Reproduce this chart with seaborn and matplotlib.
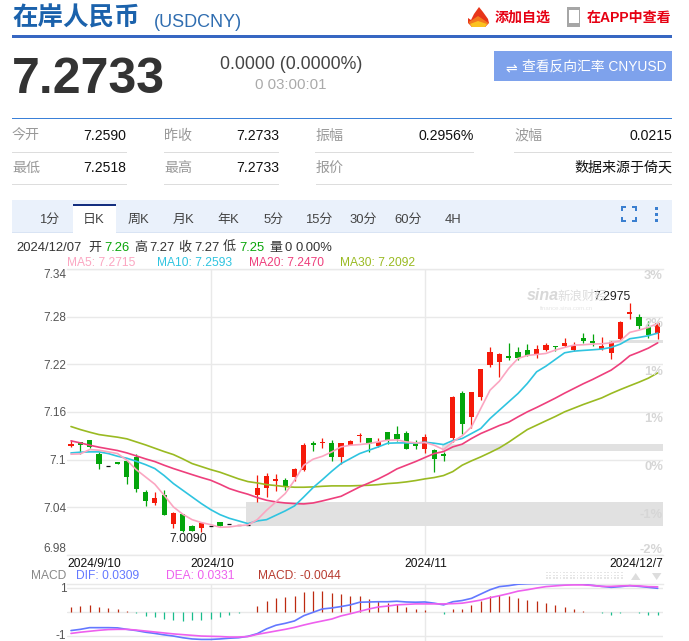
import matplotlib

matplotlib.use("Agg")
import matplotlib.pyplot as plt
import numpy as np
import pandas as pd
import seaborn as sns
from matplotlib.patches import Polygon, Rectangle

W, H = 689, 641

# daily candles
opens = [7.1169, 7.1224, 7.1245, 7.1068, 7.0925, 7.0967, 7.098, 7.103, 7.0589, 7.0451, 7.0551, 7.0186, 7.0312, 7.0161, 7.0136, 7.0169,
         7.0211, 7.0186, 7.0182, 7.0178, 7.0551, 7.064, 7.0728, 7.0741, 7.0778, 7.0875, 7.1207, 7.1211, 7.1207, 7.103, 7.119, 7.1303,
         7.127, 7.1169, 7.1346, 7.132, 7.1333, 7.1194, 7.1131, 7.1119, 7.1068, 7.1278, 7.1837, 7.1534, 7.179, 7.2189, 7.2227, 7.2299,
         7.2353, 7.2379, 7.2328, 7.2379, 7.2437, 7.2429, 7.2379, 7.253, 7.2492, 7.2391, 7.2345, 7.2513, 7.2837, 7.2795, 7.2681, 7.2589]
closes = [7.1194, 7.1186, 7.1161, 7.0946, 7.0925, 7.0946, 7.0778, 7.0631, 7.0476, 7.0514, 7.03, 7.0325, 7.0102, 7.0098, 7.0199, 7.0169,
          7.0165, 7.0186, 7.0182, 7.0178, 7.064, 7.0791, 7.0753, 7.0657, 7.0879, 7.1182, 7.1182, 7.122, 7.103, 7.1207, 7.1232, 7.1308,
          7.1203, 7.122, 7.1253, 7.1266, 7.1131, 7.1169, 7.1283, 7.1005, 7.1051, 7.179, 7.1446, 7.1849, 7.2143, 7.2353, 7.2328, 7.2278,
          7.2278, 7.2307, 7.2391, 7.2442, 7.2416, 7.2467, 7.2433, 7.2488, 7.2471, 7.2437, 7.2475, 7.2732, 7.2858, 7.2681, 7.2568, 7.2715]
highs = [7.1245, 7.1224, 7.1245, 7.1098, 7.0925, 7.0967, 7.1001, 7.1077, 7.0615, 7.0598, 7.0623, 7.0337, 7.0312, 7.0178, 7.0199, 7.0169,
         7.0211, 7.0186, 7.0182, 7.0178, 7.0808, 7.0829, 7.0816, 7.077, 7.0892, 7.1211, 7.1232, 7.1278, 7.1245, 7.1207, 7.1245, 7.1337,
         7.127, 7.127, 7.1346, 7.1421, 7.1358, 7.1245, 7.1329, 7.114, 7.1098, 7.1799, 7.1862, 7.1849, 7.2143, 7.2421, 7.2345, 7.2463,
         7.2412, 7.2454, 7.2442, 7.2471, 7.2437, 7.2526, 7.2479, 7.2589, 7.2576, 7.2538, 7.2496, 7.2744, 7.2975, 7.2832, 7.2748, 7.2727]
lows = [7.116, 7.1077, 7.1148, 7.0888, 7.0925, 7.0946, 7.0699, 7.0589, 7.0413, 7.0425, 7.03, 7.014, 7.009, 7.0098, 7.0095, 7.0169,
        7.0165, 7.0186, 7.0182, 7.0178, 7.0467, 7.0531, 7.0606, 7.0615, 7.0732, 7.0854, 7.1106, 7.1148, 7.0984, 7.0951, 7.118, 7.1224,
        7.1102, 7.1161, 7.1203, 7.1236, 7.1131, 7.1131, 7.1089, 7.0846, 7.0981, 7.1223, 7.1328, 7.1404, 7.1748, 7.2168, 7.2042, 7.2252,
        7.2252, 7.2303, 7.2286, 7.2371, 7.2366, 7.2421, 7.2366, 7.2463, 7.2429, 7.2379, 7.2261, 7.2505, 7.2774, 7.2639, 7.2534, 7.2517]

ma5 = [7.1069, 7.1073, 7.1127, 7.1119, 7.1098, 7.1077, 7.0993, 7.0875, 7.0783, 7.0691, 7.0552, 7.0405, 7.0313, 7.0245, 7.0208, 7.0182,
       7.0149, 7.0153, 7.017, 7.0178, 7.0245, 7.0363, 7.0468, 7.0573, 7.0741, 7.093, 7.1006, 7.1043, 7.1098, 7.1161, 7.1182, 7.119,
       7.1203, 7.1224, 7.1245, 7.1249, 7.1224, 7.1211, 7.1216, 7.1182, 7.1127, 7.1224, 7.13, 7.1413, 7.1644, 7.1875, 7.1988, 7.2148,
       7.2274, 7.2312, 7.2324, 7.2337, 7.2379, 7.2413, 7.2442, 7.2446, 7.2455, 7.2459, 7.2471, 7.2497, 7.2602, 7.2631, 7.2665, 7.2715]
ma10 = [7.1085, 7.1094, 7.1098, 7.1098, 7.1077, 7.1043, 7.1018, 7.098, 7.0938, 7.0888, 7.08, 7.0699, 7.0615, 7.0531, 7.0447, 7.0371,
        7.0308, 7.0262, 7.0229, 7.0195, 7.0229, 7.0245, 7.03, 7.0355, 7.0418, 7.0531, 7.0649, 7.0749, 7.0854, 7.0951, 7.1014, 7.1077,
        7.1119, 7.1161, 7.1207, 7.1211, 7.1211, 7.1207, 7.122, 7.1207, 7.119, 7.1241, 7.1266, 7.1329, 7.1392, 7.1518, 7.1623, 7.1728,
        7.1833, 7.1959, 7.2106, 7.2177, 7.2261, 7.2345, 7.2366, 7.2375, 7.2383, 7.2392, 7.2413, 7.2455, 7.2522, 7.2539, 7.256, 7.2593]
ma20 = [7.1237, 7.1211, 7.1182, 7.1157, 7.1136, 7.1115, 7.1085, 7.1048, 7.101, 7.0976, 7.093, 7.0888, 7.085, 7.0812, 7.0775, 7.0741,
        7.0691, 7.0636, 7.0598, 7.0565, 7.0523, 7.0489, 7.0468, 7.0455, 7.0447, 7.0443, 7.0455, 7.0481, 7.051, 7.0539, 7.0598, 7.0657,
        7.0707, 7.0758, 7.0817, 7.0884, 7.093, 7.0976, 7.1027, 7.1077, 7.1102, 7.1161, 7.1195, 7.1266, 7.1329, 7.1379, 7.143, 7.1472,
        7.1539, 7.1602, 7.1657, 7.1715, 7.1774, 7.1837, 7.1896, 7.1955, 7.2009, 7.2068, 7.2127, 7.2211, 7.2308, 7.2354, 7.2404, 7.247]
ma30 = [7.1417, 7.1379, 7.1346, 7.1316, 7.1299, 7.1283, 7.1262, 7.1224, 7.1186, 7.1144, 7.1102, 7.1064, 7.101, 7.0951, 7.0913, 7.0875,
        7.0842, 7.08, 7.0758, 7.0724, 7.0707, 7.0686, 7.0674, 7.0661, 7.0653, 7.0653, 7.0657, 7.0665, 7.067, 7.067, 7.067, 7.0674,
        7.0678, 7.0686, 7.0699, 7.0707, 7.072, 7.0737, 7.0758, 7.0775, 7.08, 7.085, 7.093, 7.0985, 7.1035, 7.109, 7.1148, 7.122,
        7.13, 7.1379, 7.1434, 7.1489, 7.1543, 7.1602, 7.1648, 7.1694, 7.1736, 7.1778, 7.1833, 7.1883, 7.193, 7.1976, 7.2026, 7.2092]

macd_hist = [0.21, 0.26, 0.29, 0.22, 0.17, 0.13, 0.04, -0.04, -0.17, -0.18, -0.28, -0.31, -0.38, -0.33, -0.33, -0.28,
             -0.18, -0.13, -0.04, 0, 0.25, 0.49, 0.6, 0.63, 0.69, 0.83, 0.9, 0.9, 0.79, 0.76, 0.69, 0.67,
             0.56, 0.47, 0.38, 0.33, 0.22, 0.14, 0.11, 0.01, -0.08, 0.14, 0.15, 0.31, 0.49, 0.67, 0.72, 0.67,
             0.6, 0.51, 0.46, 0.39, 0.31, 0.24, 0.14, 0.07, 0, -0.04, -0.11, -0.04, 0, -0.04, -0.11, -0.12]
dif = [-0.76, -0.71, -0.64, -0.64, -0.64, -0.65, -0.71, -0.76, -0.83, -0.88, -0.94, -0.99, -1.06, -1.11, -1.13, -1.13,
       -1.11, -1.08, -1.06, -1.0, -0.89, -0.69, -0.54, -0.46, -0.36, -0.14, 0, 0.14, 0.18, 0.24, 0.31, 0.42,
       0.43, 0.44, 0.44, 0.46, 0.43, 0.42, 0.43, 0.38, 0.31, 0.44, 0.49, 0.58, 0.76, 0.94, 1.07, 1.11,
       1.17, 1.19, 1.2, 1.2, 1.2, 1.2, 1.19, 1.17, 1.12, 1.08, 1.04, 1.07, 1.11, 1.08, 1.04, 1.0]
dea = [-0.88, -0.83, -0.79, -0.75, -0.72, -0.71, -0.71, -0.74, -0.78, -0.82, -0.86, -0.9, -0.93, -0.96, -0.99, -1.0,
       -1.01, -1.03, -1.03, -1.01, -0.92, -0.85, -0.78, -0.71, -0.63, -0.53, -0.44, -0.36, -0.28, -0.15, -0.06, 0.04,
       0.14, 0.22, 0.26, 0.31, 0.33, 0.35, 0.35, 0.35, 0.35, 0.36, 0.38, 0.44, 0.51, 0.61, 0.69, 0.78,
       0.88, 0.94, 1.01, 1.07, 1.1, 1.13, 1.14, 1.14, 1.12, 1.08, 1.08, 1.1, 1.11, 1.1, 1.07, 1.06]

# unfilled price gaps: first candle, lower price, upper price
gap_starts = [19, 40, 58]
gap_lows = [7.016, 7.1106, 7.2467]
gap_highs = [7.0467, 7.1203, 7.2505]

price_ticks = [6.98, 7.04, 7.1, 7.16, 7.22, 7.28, 7.34]
price_tick_labels = ["6.98", "7.04", "7.1", "7.16", "7.22", "7.28", "7.34"]
pct_labels = ["3%", "2%", "1%", "1%", "0%", "-1%", "-2%"]
month_ticks = [15, 38]
month_labels = ["2024/10", "2024/11"]
tab_labels = ["1分", "日K", "周K", "月K", "年K", "5分", "15分", "30分", "60分", "4H"]

RED = "#f51a0a"
GREEN = "#04a50c"
GRID = "#e9e9e9"
MA_COLORS = {"MA5": "#fba6c1", "MA10": "#2fc4e0", "MA20": "#ee3f7c", "MA30": "#9aba22"}

sns.set_theme(style="white")
plt.rcParams["font.family"] = ["Liberation Sans", "Noto Sans CJK SC", "DejaVu Sans"]
plt.rcParams["axes.unicode_minus"] = False

fig = plt.figure(figsize=(W / 100, H / 100), dpi=100, facecolor="white")


def put(x, y, s, size, color, ha="left", weight="normal", **kw):
    # y is the middle of the glyphs, so mixed fonts share one baseline
    y_base = y + 0.36 * size
    return fig.text(x / W, 1 - y_base / H, s, fontsize=size * 0.72, color=color, ha=ha, va="baseline", fontweight=weight, **kw)


def box(x0, y0, x1, y1, color, **kw):
    fig.add_artist(Rectangle((x0 / W, 1 - y1 / H), (x1 - x0) / W, (y1 - y0) / H, transform=fig.transFigure,
                             facecolor=color, edgecolor="none", **kw))


def poly(points, color):
    pts = [(x / W, 1 - y / H) for x, y in points]
    fig.add_artist(Polygon(pts, closed=True, transform=fig.transFigure, facecolor=color, edgecolor="none"))


def draw_header():
    put(12, 16, "在岸人民币", 25.5, "#1b62ac", weight="bold")
    put(154, 21, "(USDCNY)", 18, "#2f6db0")
    box(12, 35, 672, 38, "#3767c2")

    # flame icon
    poly([(479, 7), (483, 12), (488, 19), (489, 23), (485, 27), (472, 27), (468, 23), (468, 18), (471, 20), (474, 14)], "#e8351a")
    poly([(468.5, 22), (472, 20), (478, 16), (484, 20), (488.5, 23), (485, 27), (472, 27)], "#f47a1c")
    poly([(470, 24), (478, 21), (487, 24), (485, 27), (472, 27)], "#fbc21f")
    put(495, 17, "添加自选", 14, "#e60012", weight="bold")
    box(567, 7, 580, 27, "#a6a6a6")
    box(568.5, 10, 578.5, 23, "white")
    put(587, 17, "在APP中查看", 14, "#e60012", weight="bold")

    put(12, 75, "7.2733", 50, "#333333", weight="bold")
    put(220, 63, "0.0000 (0.0000%)", 17.8, "#444444")
    put(291, 84, "0 03:00:01", 15, "#aaaaaa", ha="center")
    box(494, 51, 672, 81, "#7ea2ec")
    put(505, 68, "⇌", 14, "white", family="DejaVu Sans")
    put(522, 66, "查看反向汇率 CNYUSD", 13.8, "white")

    box(12, 117.5, 672, 118.5, "#3a80d8")
    # stats rows: x start, right edge, label, value, line y
    rows = [(12, 126.5, "今开", "7.2590", 135), (164, 279, "昨收", "7.2733", 135), (315, 473.5, "振幅", "0.2956%", 135),
            (514, 672, "波幅", "0.0215", 135), (12, 126.5, "最低", "7.2518", 167), (164, 279, "最高", "7.2733", 167),
            (316, 672, "报价", "数据来源于倚天", 167)]
    for x0, x1, label, value, y in rows:
        put(x0, y, label, 14, "#999999")
        put(x1, y, value, 14, "#111111", ha="right")
        box(x0, y + 16.5, x1, y + 17.5, "#dddddd")

    # period tabs
    box(12, 200, 672, 232, "#eaf1fb")
    box(12, 232, 672, 233, "#d9e4f4")
    box(72.5, 204, 116.5, 233, "white")
    box(72.5, 204, 116.5, 206, "#142f80")
    for i, label in enumerate(tab_labels):
        put(49 + 44.9 * i, 218, label, 13, "#444444", ha="center")
    # fullscreen corners
    for x0, x1, y0, y1 in [(621, 626, 206, 208), (632, 637, 206, 208), (621, 626, 220, 222), (632, 637, 220, 222),
                           (621, 623, 206, 211), (635, 637, 206, 211), (621, 623, 217, 222), (635, 637, 217, 222)]:
        box(x0, y0, x1, y1, "#3a7fd0")
    for y in [208, 214, 220]:
        box(654.5, y - 1.5, 657.5, y + 1.5, "#3a7fd0")

    # info line of the hovered candle
    info = [(16.7, "2024/12/07", "#333333"), (87.8, "开", "#333333"), (104.5, "7.26", "#0aa50a"), (134, "高", "#333333"),
            (149, "7.27", "#333333"), (178, "收", "#333333"), (194, "7.27", "#333333"), (223, "低", "#333333"),
            (239, "7.25", "#0aa50a"), (269, "量", "#333333"), (284.6, "0", "#333333"), (295, "0.00%", "#333333")]
    for x, s, color in info:
        put(x, 246.5, s, 13, color)
    put(66.8, 261.5, "MA5: 7.2715", 12, MA_COLORS["MA5"])
    put(157, 261.5, "MA10: 7.2593", 12, MA_COLORS["MA10"])
    put(249, 261.5, "MA20: 7.2470", 12, MA_COLORS["MA20"])
    put(339.5, 261.5, "MA30: 7.2092", 12, MA_COLORS["MA30"])


def clean_axis(ax):
    ax.set_xlim(-0.43, 63.57)
    ax.set_facecolor("none")
    for side in ["left", "right"]:
        ax.spines[side].set_visible(False)
    for side in ["top", "bottom"]:
        ax.spines[side].set_color(GRID)
        ax.spines[side].set_linewidth(1)
    ax.set_xlabel("")
    ax.set_ylabel("")
    ax.tick_params(axis="both", length=0, labelsize=8.5, labelcolor="#555555", pad=0.5)
    ax.set_xticks(month_ticks)
    ax.set_xticklabels([])
    ax.grid(True, color=GRID, linewidth=1)
    ax.set_axisbelow(True)


def draw_candles(ax, days):
    opens_a, closes_a = np.array(opens), np.array(closes)
    is_flat = opens_a == closes_a
    is_up = closes_a > opens_a
    colors = np.where(is_up, RED, GREEN)
    ax.vlines(days[~is_flat], np.array(lows)[~is_flat], np.array(highs)[~is_flat], colors=colors[~is_flat], linewidth=0.9, zorder=3)
    ax.bar(days[~is_flat], np.abs(closes_a - opens_a)[~is_flat], bottom=np.minimum(opens_a, closes_a)[~is_flat],
           width=0.56, color=colors[~is_flat], linewidth=0, zorder=3)
    ax.hlines(opens_a[is_flat], days[is_flat] - 0.22, days[is_flat] + 0.22, colors="#111111", linewidth=0.9, zorder=3)


def draw_main(days):
    ax = fig.add_axes([67 / W, 1 - 555 / H, 596 / W, 286 / H])
    for start, low, high in zip(gap_starts, gap_lows, gap_highs):
        ax.fill_between([start - 0.2, 63.57], low, high, color="#e1e1e1", linewidth=0, zorder=1)
    draw_candles(ax, days)
    frame = pd.DataFrame({"day": days, "MA5": ma5, "MA10": ma10, "MA20": ma20, "MA30": ma30})
    for name in ["MA30", "MA20", "MA10", "MA5"]:
        sns.lineplot(data=frame, x="day", y=name, color=MA_COLORS[name], linewidth=1.2, ax=ax, zorder=4)
    clean_axis(ax)
    ax.set_ylim(6.98, 7.34)
    ax.set_yticks(price_ticks)
    ax.set_yticklabels(price_tick_labels)
    ax.get_yticklabels()[0].set_va("bottom")
    ax.get_yticklabels()[-1].set_va("top")

    ax.annotate("7.2975", (60, highs[60]), xytext=(1, 0), textcoords="offset points", ha="right", va="bottom",
                fontsize=8.8, color="#222222", zorder=6)
    ax.annotate("7.0090", (12, lows[12]), xytext=(4, -1), textcoords="offset points", ha="center", va="top",
                fontsize=8.8, color="#222222", zorder=6)

    # percent scale on the right edge of the plot
    pct_y = [274, 322, 370, 417, 465, 513, 548]
    for y, s in zip(pct_y, pct_labels):
        put(663, y, s, 13, "#d6d6d6", ha="right", weight="bold", zorder=5)

    # watermark
    put(527, 294, "sina", 16, "#d8d8d8", weight="bold", style="italic", zorder=0)
    put(557, 295, "新浪财经", 12.5, "#dddddd", zorder=0)
    put(540, 308, "finance.sina.com.cn", 6, "#e6e6e6", zorder=0)
    return ax


def draw_macd(days):
    ax = fig.add_axes([67 / W, 0, 596 / W, (H - 583.5) / H])
    hist = np.array(macd_hist)
    ax.vlines(days[hist >= 0], 0, hist[hist >= 0], colors="#bd2a10", linewidth=0.9, zorder=2)
    ax.vlines(days[hist < 0], 0, hist[hist < 0], colors="#19bd8c", linewidth=0.9, zorder=2)
    frame = pd.DataFrame({"day": days, "DIF": dif, "DEA": dea})
    sns.lineplot(data=frame, x="day", y="DIF", color="#6378ff", linewidth=1.2, ax=ax, zorder=3)
    sns.lineplot(data=frame, x="day", y="DEA", color="#ee60ee", linewidth=1.2, ax=ax, zorder=4)
    clean_axis(ax)
    ax.spines["bottom"].set_visible(False)
    ax.set_ylim(-1.196, 1.2)
    ax.set_yticks([-1, 0, 1])
    ax.set_yticklabels([])
    return ax


def draw_panel_labels():
    put(67, 563, "2024/9/10", 12, "#111111")
    put(212, 563, month_labels[0], 12, "#111111", ha="center")
    put(426, 563, month_labels[1], 12, "#111111", ha="center")
    put(663, 563, "2024/12/7", 12, "#111111", ha="right")

    put(31.5, 574.5, "MACD", 12, "#888888")
    put(76, 574.5, "DIF: 0.0309", 12, "#6378ff")
    put(166.5, 574.5, "DEA: 0.0331", 12, "#ee60ee")
    put(257.5, 574.5, "MACD: -0.0044", 12, "#b83c30")

    # tick labels of the lower panel, kept clear of the bottom edge
    put(66.5, 588, "1", 11.8, "#555555", ha="right")
    put(66.5, 634.5, "-1", 11.8, "#555555", ha="right")

    # chart zoom control strip
    for x in np.arange(546, 623, 3.4):
        for y in [572.5, 575.5, 578]:
            box(x, y - 0.8, x + 1.8, y + 0.8, "#e6e6e6")
    poly([(635.7, 573), (631, 580), (640.4, 580)], "#dddddd")
    poly([(656.7, 580), (652, 573), (661.4, 573)], "#dddddd")


def main():
    days = np.arange(len(closes))
    draw_header()
    draw_main(days)
    draw_macd(days)
    draw_panel_labels()
    fig.savefig("out.png", dpi=100)


if __name__ == "__main__":
    main()
